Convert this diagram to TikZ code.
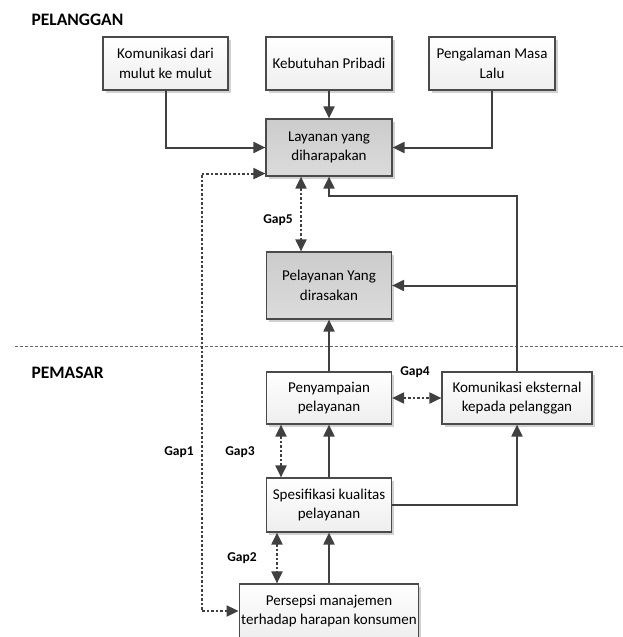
\documentclass[tikz,border=0pt]{standalone}
\usepackage{fontspec}
\setmainfont{Carlito}
\usepackage{tikz}
\usetikzlibrary{arrows.meta,positioning,shadows}
\definecolor{GapLine}{HTML}{404040}
\definecolor{GapBorder}{HTML}{4A4A4A}
\definecolor{GapShade}{HTML}{D2D2D2}
\definecolor{GapLight}{HTML}{EEEEEE}
\tikzset{
  flowarrow/.style={-{Triangle[length=12pt,width=11pt]},line width=2pt,draw=GapLine},
  gaparrow/.style={{Triangle[length=12pt,width=11pt]}-{Triangle[length=12pt,width=11pt]},line width=2pt,draw=GapLine,dash pattern=on 2.5pt off 2pt},
  custbox/.style={draw=GapBorder,line width=1.2pt,top color=white,bottom color=GapLight,align=center,
    inner sep=2pt,font=\fontsize{15}{19.5}\selectfont,
    drop shadow={shadow xshift=2.5pt,shadow yshift=-2.5pt,fill=black!18,opacity=1}},
  keybox/.style={custbox,top color=black!20,bottom color=black!14},
  gaplabel/.style={font=\bfseries\fontsize{13.5}{15}\selectfont},
  zonelabel/.style={font=\bfseries\fontsize{17.5}{20}\selectfont,anchor=west}
}
\begin{document}
\begin{tikzpicture}[x=1pt,y=-1pt]
  \useasboundingbox[fill=white] (0,0) rectangle (623,637);
  % pelanggan side
  \node[zonelabel] (pel) at (28,20) {PELANGGAN};
  \node[custbox,minimum width=125pt,minimum height=53pt] (mulut) at (165.5,63.5) {Komunikasi dari\\mulut ke mulut};
  \node[custbox,minimum width=126pt,minimum height=53pt] (butuh) at (329,63.5) {Kebutuhan Pribadi};
  \node[custbox,minimum width=126pt,minimum height=53pt] (lalu) at (492,63.5) {Pengalaman Masa\\Lalu};
  \node[keybox,minimum width=126pt,minimum height=57pt] (harap) at (329,147.5) {Layanan yang\\diharapakan};
  \node[keybox,minimum width=125pt,minimum height=67pt] (rasa) at (329,285.5) {Pelayanan Yang\\dirasakan};
  % batas
  \coordinate (bl) at (15,346);
  \coordinate (br) at (623,346);
  \draw[draw=GapLine!80,line width=0.9pt,dash pattern=on 3pt off 2pt] (bl) -- (br);
  % pemasar side
  \node[zonelabel] (pem) at (28,373) {PEMASAR};
  \node[custbox,minimum width=125pt,minimum height=52pt] (sampai) at (329,398) {Penyampaian\\pelayanan};
  \node[custbox,minimum width=150pt,minimum height=52pt] (eks) at (517,398) {Komunikasi eksternal\\kepada pelanggan};
  \node[custbox,minimum width=125pt,minimum height=54pt] (spek) at (329,505) {Spesifikasi kualitas\\pelayanan};
  \node[custbox,minimum width=176pt,minimum height=54pt] (persepsi) at (329,611) {Persepsi manajemen\\terhadap harapan konsumen};
  % arus
  \draw[flowarrow] (mulut.south) |- (harap.west);
  \draw[flowarrow] (butuh.south) -- (harap.north);
  \draw[flowarrow] (lalu.south) |- (harap.east);
  \coordinate (tekuk) at (517,196);
  \draw[flowarrow] (eks.north) -- (tekuk) -| (harap.south);
  \draw[flowarrow] (eks.north |- rasa.east) -- (rasa.east);
  \draw[flowarrow] (sampai.north) -- (rasa.south);
  \draw[flowarrow] (spek.north) -- (sampai.south);
  \draw[flowarrow] (spek.east) -| (eks.south);
  \draw[flowarrow] (persepsi.north) -- (spek.south);
  % gap
  \draw[gaparrow] ([xshift=-28pt]harap.south) -- ([xshift=-28pt]rasa.north);
  \draw[gaparrow] (sampai.east) -- (eks.west);
  \draw[gaparrow] ([xshift=-48pt]sampai.south) -- ([xshift=-48pt]spek.north);
  \draw[gaparrow] ([xshift=-52pt]spek.south) -- ([xshift=-52pt]persepsi.north);
  \draw[gaparrow] ([yshift=3pt]harap.south west) -| ([xshift=-37pt]persepsi.west) -- (persepsi.west);
  \node[gaplabel] (g5) at (278,220) {Gap5};
  \node[gaplabel] (g4) at (415,372) {Gap4};
  \node[gaplabel] (g3) at (240,452) {Gap3};
  \node[gaplabel] (g1) at (179,452) {Gap1};
  \node[gaplabel] (g2) at (242,558) {Gap2};
\end{tikzpicture}
\end{document}
